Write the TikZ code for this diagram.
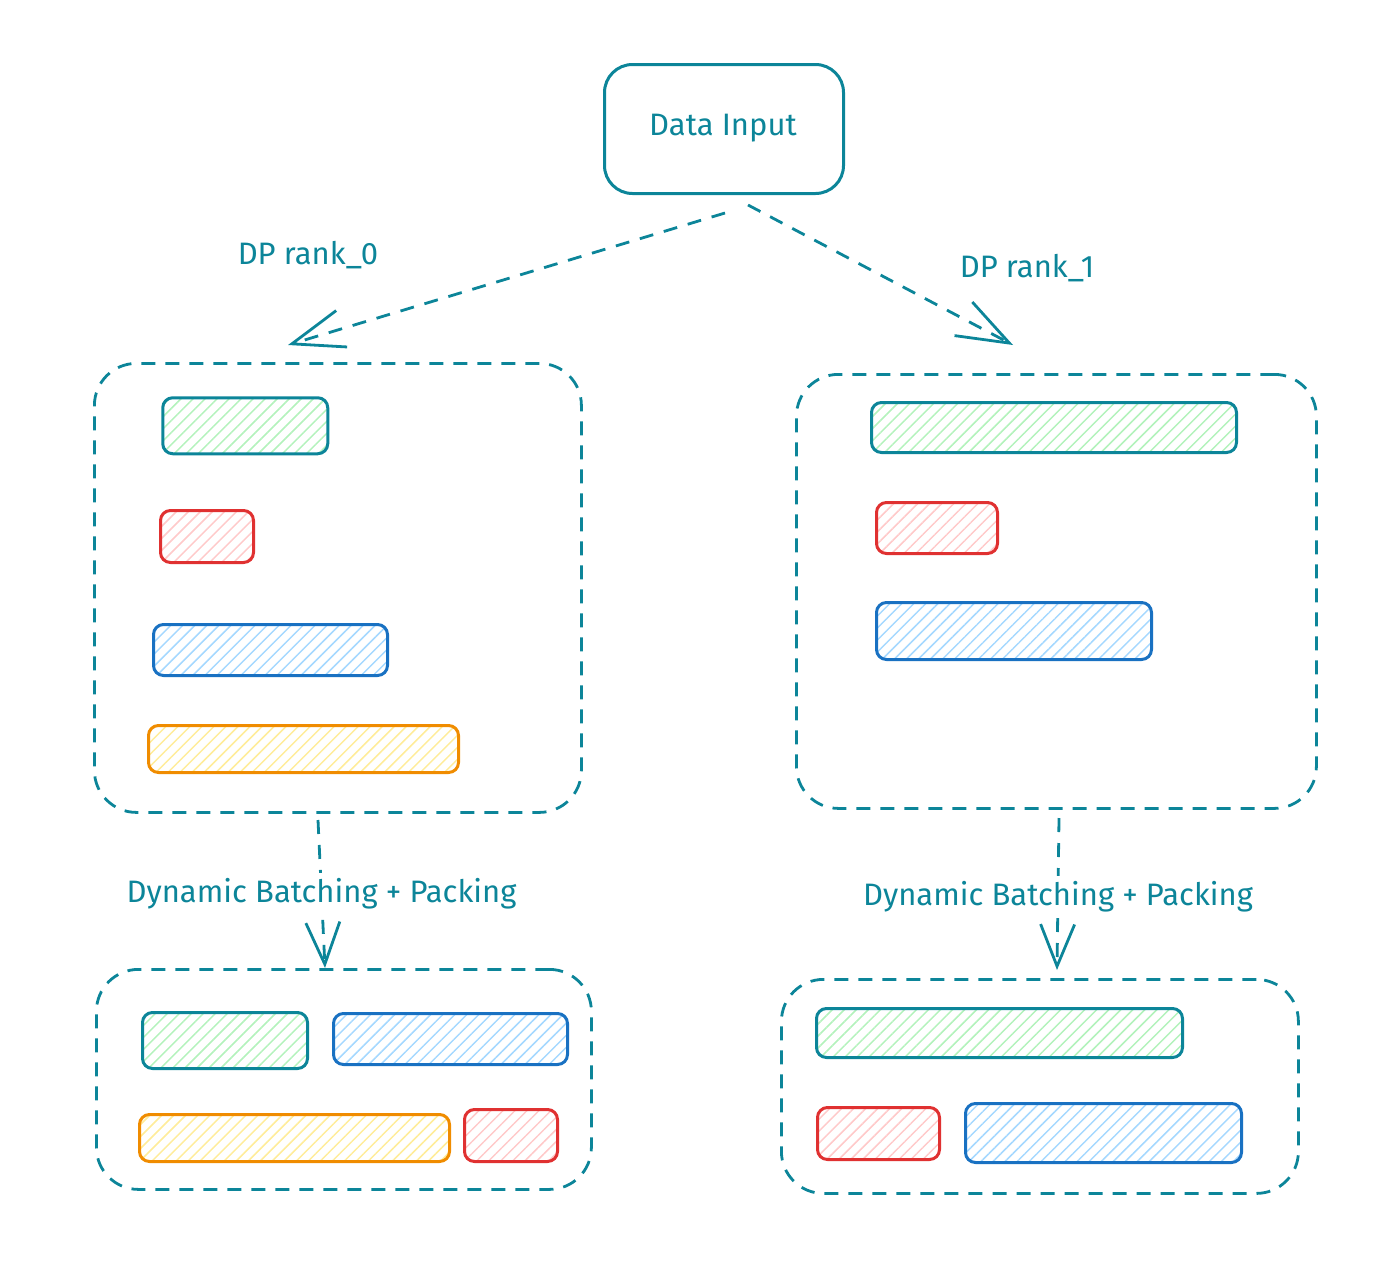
\documentclass[tikz,border=0pt]{standalone}
\usepackage{fontspec}
\setmainfont{Fira Sans}
\usetikzlibrary{arrows.meta,patterns.meta}
\definecolor{tealc}{HTML}{0C8599}
\definecolor{redc}{HTML}{E03131}
\definecolor{bluec}{HTML}{1971C2}
\definecolor{orangec}{HTML}{F08C00}
\definecolor{greenf}{HTML}{B2F2BB}
\definecolor{redf}{HTML}{FFC9C9}
\definecolor{bluef}{HTML}{A5D8FF}
\definecolor{orangef}{HTML}{FFEC99}
\tikzset{
  lbl/.style={text=tealc, font=\fontsize{31}{37}\selectfont, inner sep=2pt},
  solidbox/.style={draw=tealc, line width=3pt, rounded corners=28pt, inner sep=0pt, anchor=north west},
  dashbox/.style={draw=tealc, line width=2.8pt, rounded corners=42pt, dash pattern=on 14pt off 10pt, inner sep=0pt, anchor=north west},
  bar/.style 2 args={draw=#1, line width=3pt, rounded corners=10pt, inner sep=0pt, anchor=north west,
     pattern={Lines[angle=45,distance=8.5pt,line width=1.5pt]}, pattern color=#2},
  gbar/.style={bar={tealc}{greenf}},
  rbar/.style={bar={redc}{redf}},
  bbar/.style={bar={bluec}{bluef}},
  obar/.style={bar={orangec}{orangef}},
  conn/.style={draw=tealc, line width=2.8pt, dash pattern=on 14pt off 11pt, -{Straight Barb[length=52pt,width=38pt,line width=2.8pt]}},
  sconn/.style={draw=tealc, line width=2.8pt, dash pattern=on 14pt off 11pt, -{Straight Barb[length=42pt,width=34pt,line width=2.8pt]}},
}
\begin{document}
\begin{tikzpicture}[x=1pt,y=-1pt]
\useasboundingbox (0,0) rectangle (1400,1277);
% Data Input
\node[solidbox, minimum width=239pt, minimum height=129pt] (din) at (603,63) {};
\node[lbl] (dinl) at (723,128) {Data Input};
% big boxes
\node[dashbox, minimum width=487pt, minimum height=449pt] (b0) at (93,362) {};
\node[dashbox, minimum width=520pt, minimum height=434pt] (b1) at (795,373) {};
% bottom boxes
\node[dashbox, minimum width=495pt, minimum height=220pt] (c0) at (95,968) {};
\node[dashbox, minimum width=517pt, minimum height=214pt] (c1) at (780,978) {};
% left bars
\node[gbar, minimum width=165pt, minimum height=56pt] (l1) at (162,397) {};
\node[rbar, minimum width=93pt, minimum height=52pt] (l2) at (159,509) {};
\node[bbar, minimum width=234pt, minimum height=51pt] (l3) at (152,623) {};
\node[obar, minimum width=310pt, minimum height=47pt] (l4) at (147,724) {};
% right bars
\node[gbar, minimum width=365pt, minimum height=50pt] (r1) at (870,401) {};
\node[rbar, minimum width=121pt, minimum height=51pt] (r2) at (875,501) {};
\node[bbar, minimum width=275pt, minimum height=57pt] (r3) at (875,601) {};
% bottom left bars
\node[gbar, minimum width=165pt, minimum height=56pt] (p1) at (141,1011) {};
\node[bbar, minimum width=234pt, minimum height=51pt] (p2) at (332,1012) {};
\node[obar, minimum width=310pt, minimum height=47pt] (p3) at (138,1113) {};
\node[rbar, minimum width=93pt, minimum height=52pt] (p4) at (463,1108) {};
% bottom right bars
\node[gbar, minimum width=366pt, minimum height=49pt] (q1) at (815,1007) {};
\node[rbar, minimum width=122pt, minimum height=52pt] (q2) at (816,1106) {};
\node[bbar, minimum width=276pt, minimum height=59pt] (q3) at (964,1102) {};
% connectors
\coordinate (s0) at (725,213);
\coordinate (e0) at (288,345);
\coordinate (s1) at (748,205);
\coordinate (e1) at (1013,345);
\draw[conn] (s0) -- (e0);
\draw[conn] (s1) -- (e1);
\node[lbl] (dp0) at (308,255) {DP rank\_0};
\node[lbl] (dp1) at (1027,268) {DP rank\_1};
\coordinate (t0) at (318,820);
\coordinate (u0) at (325,968);
\coordinate (t1) at (1059,818);
\coordinate (u1) at (1057,970);
\draw[sconn] (t0) -- (u0) node[lbl, fill=white, pos=0.5, inner sep=6pt] (db0) {Dynamic Batching + Packing};
\draw[sconn] (t1) -- (u1) node[lbl, fill=white, pos=0.52, inner sep=6pt] (db1) {Dynamic Batching + Packing};
\end{tikzpicture}
\end{document}
